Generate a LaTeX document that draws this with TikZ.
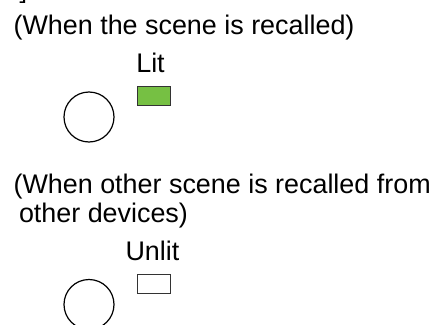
\documentclass[tikz,border=0pt]{standalone}
\usepackage{fontspec}
\setmainfont{Liberation Sans}
\definecolor{litgreen}{HTML}{76C043}
\definecolor{edgegray}{HTML}{333333}
\begin{document}
\begin{tikzpicture}[x=1pt,y=-1pt,
  lbl/.style={anchor=base west,inner sep=0pt,outer sep=0pt,font=\fontsize{26.9}{30}\selectfont,text=black},
  knob/.style={draw=black,line width=1.2pt,circle,minimum size=50pt,inner sep=0pt},
  lamp/.style={draw=edgegray,line width=1.3pt,minimum width=33pt,minimum height=19pt,inner sep=0pt}]
\useasboundingbox (0,0) rectangle (438,324);
\fill[black] (23.2,0) -- (25.2,0) -- (25.2,2.8) -- (19.5,2.8) -- (19.5,1.4) -- (23.2,1.4) -- cycle;
\node[lbl] (t1) at (13.6,34) {(When the scene is recalled)};
\node[lbl] (lit) at (136.3,72.7) {Lit};
\node[lamp,fill=litgreen] (lamp1) at (154,96) {};
\node[knob] (knob1) at (89,117) {};
\node[lbl] (t2) at (13.6,193.5) {(When other scene is recalled from};
\node[lbl] (t3) at (19,222) {other devices)};
\node[lbl] (unlit) at (125.5,260.7) {Unlit};
\node[lamp,fill=white,line width=1pt] (lamp2) at (154,284) {};
\node[knob] (knob2) at (89,304.5) {};
\end{tikzpicture}
\end{document}
